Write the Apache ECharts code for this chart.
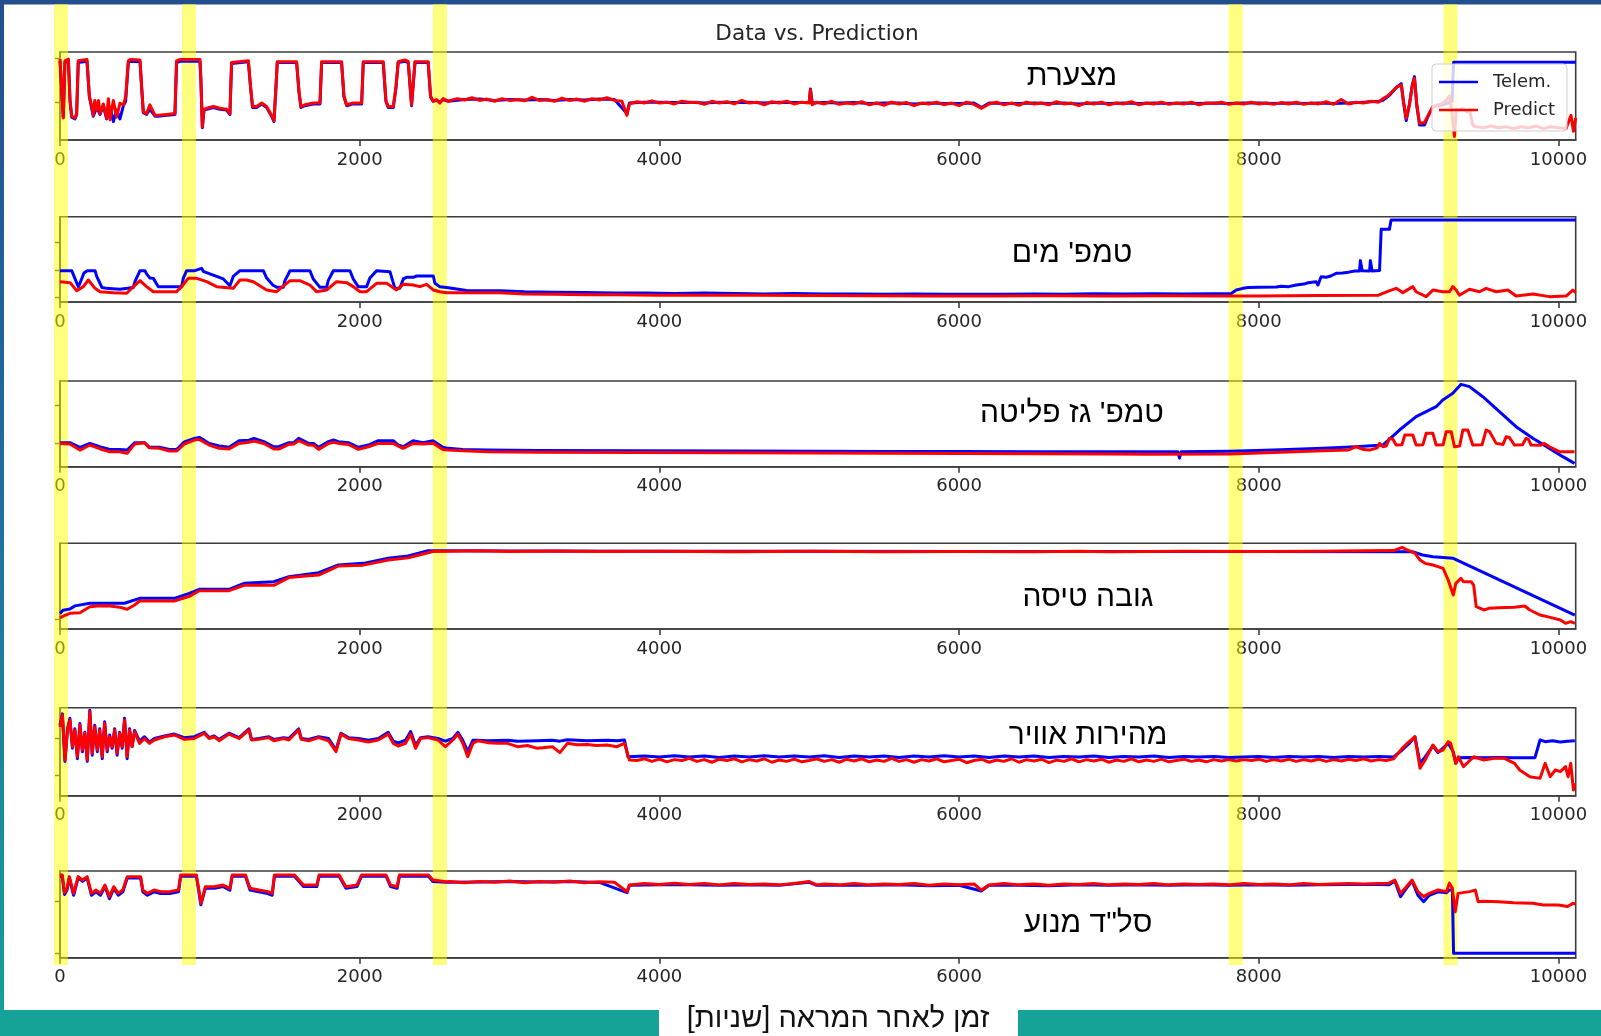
<!DOCTYPE html>
<html>
<head>
<meta charset="utf-8">
<script src="https://cdn.jsdelivr.net/npm/echarts@6/dist/echarts.min.js"></script>
<style>
html,body{margin:0;padding:0;background:#fff;}
#chart{width:1601px;height:1036px;}
</style>
</head>
<body>
<div id="chart"></div>
<script>
// ---------- DATA (time [s], value in % of panel height) ----------
const panelTitles = ["מצערת", "טמפ' מים", "טמפ' גז פליטה", "גובה טיסה", "מהירות אוויר", 'סל"ד מנוע'];
const xTicks = [0, 2000, 4000, 6000, 8000, 10000];
const seriesNames = ["Telem.", "Predict"];
const bands = [[-40, 53], [814, 907], [2488, 2582], [7799, 7892], [9233, 9326]];

const telem1 = [[0,90],[11,90],[22,26],[33,88],[56,90],[67,44],[78,26],[100,24],[111,29],[122,88],[133,89.5],[180,89.5],[196,49],[222,27],[245,37],[267,29],[289,39],[311,24],[334,37],[356,21],[378,34],[400,24],[423,39],[438,44],[456,88],[470,89.5],[534,89],[545,59],[556,31],[578,29],[600,35],[612,37],[634,27],[656,27],[712,28],[767,29],[778,88],[801,89.5],[934,89.5],[940,69],[950,14],[961,34],[979,35],[1023,37],[1068,35],[1112,34],[1134,29],[1145,87],[1156,89],[1257,89],[1272,59],[1285,37],[1312,37],[1346,41],[1379,37],[1412,27],[1428,21],[1441,59],[1450,88],[1579,88],[1595,54],[1608,37],[1635,39],[1690,41],[1735,41],[1746,88],[1879,88],[1895,49],[1913,39],[1957,41],[2013,41],[2024,88],[2157,88],[2175,44],[2190,37],[2224,37],[2242,59],[2257,88],[2302,89.5],[2324,88],[2346,39],[2357,37],[2369,88],[2457,88],[2473,49],[2490,44],[2513,45],[2535,43],[2557,46],[2591,44],
[2600,45],[2700,46],[2800,46.5],[2900,45],[3000,46],[3100,45.5],[3200,46],[3300,45],[3400,46],[3500,45.5],[3600,46.5],[3700,46],[3783,30],[3800,42],[3900,43],[4000,43],[4100,42.5],[4200,43],[4300,42],[4400,43],[4500,42.5],[4600,43],[4700,42],[4800,43],[4900,42.5],[5000,43],[5008,58],[5020,42],[5100,42.5],[5200,42],[5300,42.5],[5400,41.5],[5500,42],[5600,42],[5700,41],[5800,42],[5900,41.5],[6000,41.5],[6100,42],[6150,37],[6200,42],[6300,41.5],[6400,41.5],[6500,42],[6600,41.5],[6700,42],[6800,41],[6900,42],[7000,41.5],[7100,42],[7200,41.5],[7300,42],[7400,41.5],[7500,42],[7600,41.5],[7700,42],[7800,41.5],[7900,42],[8000,42],[8100,41.5],[8200,42],[8300,41.5],[8400,42],[8500,41.5],[8600,42],[8700,43],[8800,44],
[8828,45],[8860,49],[8884,53],[8920,60],[8951,64],[8965,44],[8984,22],[9005,40],[9025,63],[9039,72],[9055,38],[9073,17],[9106,17],[9130,27],[9162,38],[9200,39],[9229,40],[9260,42],[9290,44],[9300,88.3],[10115,88.3]];

const pred1 = [[0,92],[11,92],[22,25],[33,90],[56,92],[67,45],[78,27],[100,25],[111,30],[122,90],[133,91.5],[180,91.5],[196,50],[210,40],[222,28],[232,45],[245,34],[257,45],[267,30],[289,41],[311,25],[323,47],[334,23],[356,45],[378,26],[400,41.7],[423,40],[438,49],[456,90],[470,91.5],[534,91],[545,60],[556,32],[578,30],[600,40],[612,38],[634,28],[656,28],[712,29],[767,30],[778,90],[801,91.5],[934,91.5],[940,70],[950,15],[961,35],[979,36],[1023,38],[1068,36],[1112,35],[1134,30],[1145,88],[1156,90],[1257,90],[1272,60],[1285,38],[1312,38],[1346,42],[1379,38],[1412,28],[1428,22],[1441,60],[1450,89],[1579,89],[1595,55],[1608,38],[1635,40],[1690,42],[1735,42],[1746,89],[1879,89],[1895,50],[1913,40],[1957,42],[2013,42],[2024,89],[2157,89],[2175,45],[2190,38],[2224,38],[2242,60],[2257,89],[2302,91],[2324,89],[2346,40],[2357,38],[2369,89],[2457,89],[2473,50],[2490,44],[2513,46],[2535,42],[2557,47],[2591,44],
[2600,44],[2650,47],[2700,45.5],[2750,48],[2800,45],[2850,46.5],[2900,44],[2950,47],[3000,45],[3050,46],[3100,44.5],[3150,48.5],[3200,45],[3250,46],[3300,44],[3350,47.5],[3400,45],[3450,46.5],[3500,44],[3550,47],[3600,45.5],[3650,48],[3700,45],[3750,44],[3783,28],[3800,41],[3850,43.5],[3900,42],[3950,44.5],[4000,42],[4050,43],[4100,41],[4150,44],[4200,42.5],[4250,43],[4300,40.5],[4350,44],[4400,42],[4450,43.5],[4500,41],[4550,45],[4600,42],[4650,43],[4700,40],[4750,43.5],[4800,42],[4850,44],[4900,41],[4950,43],[5000,42],[5008,57],[5020,40],[5050,43],[5100,41],[5150,44],[5200,40.5],[5250,42],[5300,41],[5350,43.5],[5400,40],[5450,42],[5500,39.5],[5550,43],[5600,41],[5650,42.5],[5700,39],[5750,42],[5800,41],[5850,43],[5900,40],[5950,42],[6000,39],[6050,43],[6100,40.5],[6150,36],[6200,41],[6250,43],[6300,40],[6350,42],[6400,39.5],[6450,43],[6500,41],[6550,42],[6600,40],[6650,43.5],[6700,41],[6750,42],[6800,39],[6850,42.5],[6900,41],[6950,43],[7000,40],[7050,42],[7100,41],[7150,43.5],[7200,40],[7250,42],[7300,41],[7350,43],[7400,40.5],[7450,42],[7500,41],[7550,43],[7600,40],[7650,42],[7700,41.5],[7750,43],[7800,40.5],[7850,42],[7900,41],[7950,43],[8000,41],[8050,42],[8100,40.5],[8150,42.5],[8200,41],[8250,43],[8300,40.5],[8350,42],[8400,41],[8450,43.5],[8500,40.5],[8550,46],[8600,41],[8650,43],[8700,42],[8750,44],[8800,43],
[8828,47],[8860,50],[8884,54],[8920,60],[8951,62.5],[8965,45],[8984,24.6],[9005,40],[9025,62],[9039,70],[9055,40],[9073,19],[9106,20],[9130,28],[9162,38],[9200,40],[9229,42],[9250,45],[9273,50],[9290,30],[9306,4],[9318,35],[9335,34],[9360,36],[9390,32],[9406,34],[9428,17],[9451,15],[9500,14],[9550,16],[9600,14],[9650,15],[9700,13],[9750,15],[9800,14],[9850,16],[9900,13],[9950,15],[10000,14],[10051,13],[10070,22],[10084,28],[10100,10],[10115,25]];

const telem2 = [[0,36.7],[56,36.7],[78,36.7],[122,18],[133,22],[160,34],[182,36.7],[234,36.7],[245,30],[280,17],[311,16],[350,15.5],[400,15],[450,16],[489,17],[500,24],[534,36.7],[567,36.7],[578,33],[600,28],[623,27.7],[656,18],[700,18],[750,18],[812,18],[823,28],[845,36.7],[900,36.7],[945,39.5],[956,36],[1000,33],[1045,30],[1090,27],[1134,19],[1156,30],[1201,36.7],[1357,36.7],[1379,28],[1420,20],[1446,17.2],[1490,17.2],[1501,25],[1535,36.7],[1668,36.7],[1690,27],[1735,17.2],[1779,17.2],[1790,25],[1824,36.7],[1935,36.7],[1957,27],[1990,18],[2046,18],[2068,28],[2113,36.7],[2202,35.6],[2235,16],[2268,16],[2291,27],[2313,28.9],[2357,28.9],[2380,30.5],[2491,30.5],[2502,22],[2535,18],[2580,17],[2591,15],[2713,13.5],[2936,13.3],
[3100,12],[3300,11.5],[3500,11],[3700,10.5],[3900,10.5],[4100,10],[4300,10.5],[4500,10],[4700,9.5],[4900,10],[5100,9.5],[5300,9.5],[5500,9.2],[5700,9.5],[5900,9],[6100,9.2],[6300,9],[6500,9.5],[6700,9.2],[6900,9.8],[7100,9.4],[7300,9.6],[7500,9.4],[7700,9.6],
[7816,10],[7850,14],[7894,16],[7930,17],[8000,17.2],[8116,17.5],[8150,18.5],[8200,18],[8250,20],[8300,21],[8330,22.5],[8383,23.8],[8395,19.9],[8416,29.7],[8450,29],[8480,30.5],[8517,33.6],[8560,34],[8600,35],[8640,36.3],[8672,36.3],[8678,48.5],[8690,36.5],[8739,36.3],[8745,48.5],[8756,36.3],[8806,37],[8817,85.2],[8872,85.2],[8883,96.1],[10115,96.1]];

const pred2 = [[0,23.8],[67,22.7],[111,13.3],[156,18],[189,25.8],[234,16],[267,12.1],[356,10.9],[445,10.2],[467,14.1],[534,25],[578,18],[623,12.1],[778,12.1],[812,18],[856,27.7],[912,27.7],[979,23.8],[1045,18],[1156,16],[1201,25.8],[1245,25.8],[1290,23.8],[1379,14.1],[1446,12.1],[1535,25],[1601,25],[1668,19.9],[1712,12.1],[1779,14.1],[1846,23.8],[1913,22.7],[1957,18],[2002,12.1],[2046,12.1],[2113,21.9],[2180,21.9],[2246,14.1],[2291,20.7],[2357,19.9],[2402,18],[2446,20.7],[2491,14.1],[2535,12.1],[2580,10.9],[2936,10.9],[3100,9.5],[3300,9],[3500,8.5],[3700,8.5],[4000,8],[4300,8],[4600,7.8],[5000,7.5],[5400,7.3],[5800,7],[6200,7],[6600,7.2],[7000,7],[7400,7.2],[7700,7],[8000,7],[8400,7.5],[8800,8],[8828,10],[8870,13],[8917,16],[8961,11],[9028,18],[9050,12],[9117,6.3],[9162,14],[9228,12],[9273,12],[9295,18],[9317,14],[9339,8],[9406,15],[9473,12],[9517,16],[9584,12],[9662,14],[9717,7],[9829,9.4],[9940,6.3],[10051,7],[10096,14],[10115,11]];

const telem3 = [[0,28],[50,28],[66,28],[133,22.6],[199,27.2],[265,23.3],[332,20.2],[398,20.2],[448,19.4],[498,28],[564,28],[597,22.6],[664,22.6],[730,20.2],[780,20.2],[830,29],[896,33],[929,34.2],[962,31],[995,27.2],[1062,24.1],[1128,22.6],[1195,30.3],[1261,31],[1294,33.1],[1361,29.2],[1427,23.3],[1460,23.3],[1527,28],[1560,28],[1593,33.1],[1659,27.2],[1692,27.2],[1726,22.6],[1792,29.2],[1825,31.1],[1858,29.2],[1925,28],[1991,22.6],[2058,25.3],[2124,30.3],[2224,30.3],[2257,25.3],[2290,23.3],[2356,30.3],[2423,28],[2489,30.3],[2555,22.6],[2589,21.4],[2688,20.2],[2854,19.4],[3186,19],[3850,18.7],[4500,18.2],[5045,18],[5500,17.8],[6000,17.6],[6500,17.5],[7000,17.4],[7460,17.4],[7471,10],[7482,17.4],[7805,18],[8100,19.5],[8427,21.4],[8650,23.4],[8828,25.3],[8939,42.8],[9050,58.4],[9117,64.2],[9184,70],[9228,77.8],[9295,85.6],[9350,96.1],[9406,93.4],[9495,81.7],[9606,64.2],[9717,46.7],[9829,33.1],[9940,21.4],[10029,11.7],[10107,3.9]];

const pred3 = [[0,27],[66,26.4],[133,19.4],[199,25.3],[265,21],[332,17.5],[398,17.5],[448,15.6],[498,26.4],[564,28],[597,22],[664,21.4],[730,18.3],[780,18.3],[830,26.5],[896,31.1],[929,31.9],[962,28.5],[995,25.3],[1062,21.4],[1128,20.6],[1195,27.2],[1261,28.5],[1294,30],[1361,27],[1427,20.6],[1460,20.6],[1527,26],[1560,26.4],[1593,30.3],[1659,25.3],[1692,25],[1726,20.2],[1792,27],[1825,28.5],[1858,27.2],[1925,26],[1991,20.2],[2058,23.3],[2124,27.2],[2224,27.2],[2257,24],[2290,21.4],[2356,27.2],[2423,26.5],[2489,27.5],[2555,20],[2589,19.4],[2688,18.5],[2854,17.5],[3186,17],[3850,16.7],[4500,16.2],[5045,16],[5500,15.6],[6000,15.3],[6500,15],[7000,14.8],[7271,14.6],[7805,14.8],[8100,16.5],[8427,18.7],[8600,19.5],[8650,23.3],[8700,20],[8739,19.4],[8790,22],[8806,27.2],[8828,23.3],[8850,24],[8872,33.1],[8895,32],[8917,25.3],[8955,25.5],[8975,37],[9028,37],[9050,25.3],[9095,25.5],[9117,38.9],[9162,38.9],[9184,25.3],[9230,25.5],[9251,40.9],[9284,40.9],[9306,23.3],[9340,24],[9362,42.8],[9395,42.8],[9428,25.3],[9490,25.5],[9517,42.8],[9540,41],[9584,27.2],[9630,26],[9651,35],[9673,34],[9706,25.3],[9760,25.5],[9784,33.1],[9800,32],[9817,25.3],[9880,25],[9906,27.2],[9940,23.3],[10006,17.5],[10107,17.5]];

const telem4 = [[0,18],[20,22],[66,23.3],[100,27],[199,30],[431,30],[531,35.8],[763,35.8],[863,41.6],[929,46.3],[1128,46.3],[1228,53.3],[1427,55.2],[1527,61],[1726,65.7],[1858,74.7],[2024,76.6],[2190,82.5],[2323,85.2],[2456,91.4],[2522,91.4],[3000,91],[4000,90.8],[5000,90.6],[6000,90.5],[7000,90.4],[8000,90.3],[9025,90.2],[9093,86.3],[9162,84.4],[9298,82.5],[10109,16.3]];

const pred4 = [[0,13],[33,16],[66,18.3],[133,19],[199,26],[265,27],[332,26.8],[398,25.5],[448,23],[498,28],[531,32.7],[763,32.7],[863,38],[929,44.7],[1128,44.7],[1228,51],[1427,51],[1527,60],[1660,62],[1726,63],[1792,68],[1858,73.5],[2024,74.5],[2124,78],[2190,80.5],[2323,83],[2390,86],[2489,90.5],[2600,90.8],[2800,91.3],[3000,90.5],[3300,91],[3600,90.3],[4000,90.8],[4500,90.2],[5000,90.6],[5500,90],[6000,90.5],[6500,90],[6800,90.6],[7000,90.2],[7500,90.6],[8000,90.3],[8400,90.8],[8700,91.2],[8900,91.5],[8957,95.3],[8991,92.2],[9042,88.3],[9076,80.5],[9110,76.6],[9162,74.7],[9196,72.7],[9230,70.8],[9264,57.2],[9298,39.7],[9315,53.3],[9349,59.1],[9366,55.2],[9417,55.2],[9434,51.3],[9451,26.1],[9502,22.2],[9536,24.1],[9600,24.9],[9707,25.3],[9775,26.8],[9809,22.2],[9877,16.3],[9945,13.6],[10013,10.5],[10047,6.6],[10082,8.6],[10109,6.6]];

const telem5 = [[0,80],[16,93],[33,39],[50,76],[66,88],[83,54],[99,76],[116,42],[133,82],[149,50],[166,72],[182,39],[199,97],[215,46],[232,80],[249,50],[265,76],[282,42],[298,84],[315,50],[332,69],[348,54],[365,76],[381,46],[398,72],[415,54],[431,88],[448,42],[464,76],[481,56],[498,74],[531,62],[564,67],[597,61],[630,65],[697,68],[763,70],[830,66],[896,67],[962,72],[995,66],[1029,68],[1062,64],[1128,71],[1195,66],[1261,76],[1278,64],[1327,65],[1394,67],[1427,64],[1493,66],[1527,65],[1593,76],[1610,65],[1659,64],[1726,67],[1792,65],[1842,52],[1875,71],[1925,66],[1991,65],[2058,63],[2124,65],[2190,72],[2224,62],[2257,60],[2306,63],[2340,73],[2373,57],[2406,66],[2456,67],[2522,65],[2572,62],[2622,65],[2655,72],[2688,63],[2721,50],[2755,63],[2788,63],[2854,62.5],[2987,63],[3053,62],[3186,62.5],[3286,63],[3336,62],[3386,63.5],[3518,62.5],[3651,63],[3717,62.5],[3767,63.3],[3790,44.3],
[3900,45],[4000,44],[4100,45.5],[4200,44],[4300,45],[4400,43.5],[4500,45],[4600,44],[4700,45.5],[4800,44],[4900,45],[5000,44],[5100,45.5],[5200,43.5],[5300,45],[5400,44],[5500,45],[5600,43.5],[5700,45],[5800,44],[5900,45.5],[6000,44],[6100,45],[6200,43.5],[6300,45],[6400,44],[6500,45],[6600,43.5],[6700,44.5],[6800,44],[6900,45],[7000,43.5],[7100,44.5],[7200,44],[7300,45],[7400,43.5],[7500,44.5],[7600,44],[7700,44.5],[7800,43.5],[7900,44],[8000,44.5],[8100,43.5],[8200,44.5],[8300,44],[8400,44.5],[8500,43.5],[8600,44.5],[8700,44],[8800,44.5],[8900,44],
[8957,51.9],[9008,60],[9042,67],[9076,36.8],[9110,44],[9162,56.4],[9196,49],[9264,59.5],[9298,50],[9315,36.8],[9332,43.2],[9400,43.5],[9500,43],[9600,43.5],[9700,43],[9843,43.2],[9877,63.3],[9911,61.4],[9960,62.5],[10013,61],[10060,62],[10109,62.5]];

const pred5 = [[0,78],[16,91.7],[33,40.6],[50,74.7],[66,86],[83,55.7],[99,74.7],[116,44.4],[133,80.3],[149,51.9],[166,70.9],[182,40.6],[199,95.5],[215,48.1],[232,78.4],[249,51.9],[265,74.7],[282,44.4],[298,82.2],[315,51.9],[332,67.1],[348,55.7],[365,74.7],[381,48.1],[398,70.9],[415,55.7],[431,86],[448,44.4],[464,74.7],[481,55.7],[498,72.8],[531,59.5],[564,65],[597,59.5],[630,63.3],[697,67],[763,69],[830,64],[896,65],[962,70.9],[995,65],[1029,67],[1062,62.5],[1128,70],[1195,65],[1261,74.7],[1278,63.3],[1327,64],[1394,66],[1427,62.5],[1493,65],[1527,63.3],[1593,74.7],[1610,64],[1659,62.5],[1726,66],[1792,62.5],[1842,50],[1875,70],[1925,65],[1991,63.3],[2058,61],[2124,63.3],[2190,70],[2224,59.5],[2257,56.5],[2306,59.5],[2340,70],[2373,53.8],[2406,65],[2456,66],[2522,63.3],[2572,55.7],[2622,63.3],[2655,70],[2688,59.5],[2721,44.4],[2755,59.5],[2788,62.5],[2854,60.3],[2920,59.5],[2987,59.5],[3053,55.7],[3120,57],[3186,53.8],[3286,55.7],[3336,48.9],[3386,59.5],[3450,58],[3518,58.3],[3580,57],[3651,57.6],[3717,55.7],[3767,59.5],[3800,40.6],
[3850,40],[3900,42],[3950,39],[4000,41.5],[4050,38.5],[4100,41],[4150,40],[4200,42.5],[4250,39],[4300,41],[4350,38],[4400,41.5],[4450,40],[4500,42],[4550,38.5],[4600,41],[4650,39.5],[4700,42],[4750,38],[4800,40.5],[4850,39],[4900,41.5],[4950,38.5],[5000,40],[5050,42],[5100,39],[5150,41],[5200,38],[5250,41.5],[5300,39.5],[5350,42],[5400,38.5],[5450,40.5],[5500,39],[5550,42.5],[5600,39],[5650,41],[5700,38],[5750,41],[5800,39.5],[5850,42],[5900,38.5],[5950,40],[6000,41.5],[6050,37.5],[6100,40],[6150,41.5],[6200,38],[6250,40.5],[6300,39],[6350,42],[6400,38],[6450,41],[6500,39.5],[6550,41.5],[6600,37.5],[6650,40.5],[6700,39],[6750,42],[6800,38.5],[6850,41],[6900,39.5],[6950,41.5],[7000,38],[7050,40.5],[7100,39],[7150,42],[7200,38.5],[7250,40.5],[7300,39],[7350,41.5],[7400,38.5],[7450,40],[7500,41.5],[7550,39],[7600,40.5],[7650,38.5],[7700,41],[7750,39.5],[7800,41],[7850,39.5],[7900,41],[7950,40],[8000,41.5],[8050,39],[8100,41],[8150,39.5],[8200,41.5],[8250,39],[8300,41],[8350,39.5],[8400,41.5],[8450,39],[8500,41],[8550,39.5],[8600,41.5],[8650,40],[8700,42],[8750,39.5],[8800,41],[8850,40],[8900,42],
[8957,53.8],[8991,59.5],[9042,67],[9076,31.1],[9110,40.6],[9162,57.6],[9196,50],[9230,51.9],[9264,61.4],[9281,59.5],[9315,36.8],[9332,44.3],[9366,33],[9434,44.3],[9502,40.6],[9570,42.5],[9639,42.5],[9707,36.8],[9741,29.2],[9809,21.6],[9877,19.7],[9911,36.8],[9945,21.6],[9979,29.2],[10013,27.3],[10047,33],[10064,21.6],[10082,36.8],[10100,6.5],[10110,14]];

const telem6 = [[0,94],[15,94],[30,73],[47,78],[62,92],[91,72],[121,92],[151,88],[181,92],[210,72],[240,76],[270,72],[300,82],[330,68],[359,80],[389,72],[419,76],[449,92],[538,92],[553,76],[583,72],[627,76],[672,74],[732,74],[791,76],[805,94],[910,94],[925,78],[940,61],[970,80],[1029,80],[1089,82],[1134,78],[1149,94],[1238,94],[1268,78],[1327,76],[1387,74],[1416,72],[1431,94],[1565,94],[1625,82],[1714,82],[1729,94],[1863,94],[1908,80],[1982,82],[2012,94],[2176,94],[2206,82],[2250,80],[2265,94],[2459,94],[2489,88],[2578,87],
[2800,87.3],[3000,87.8],[3200,87.2],[3400,87.8],[3600,86.8],[3784,75],[3800,83.5],[4000,84],[4200,84],[4400,83.5],[4600,84],[4800,83.5],[5000,87],[5050,83.5],[5200,83.5],[5400,83.5],[5600,84],[5800,83],[6000,83.5],[6148,77],[6200,83.5],[6400,83.5],[6600,83],[6800,84],[7000,83.5],[7200,84],[7400,83.5],[7600,84],[7800,83.5],[8000,84],[8200,83.5],[8400,84],[8600,84.5],[8800,84.5],
[8870,84],[8908,88.5],[8946,70.4],[8985,80],[9023,88.5],[9062,72],[9100,64.6],[9138,72],[9196,76],[9253,75],[9272,78.1],[9292,78],[9300,5],[10115,5]];

const pred6 = [[0,95.4],[15,95.4],[30,75],[47,80],[62,93.5],[91,74.2],[121,93.5],[151,89.6],[181,93.5],[210,74.2],[240,78.1],[270,74.2],[300,83.8],[330,70.4],[359,81.9],[389,74.2],[419,78.1],[449,93.5],[538,93.5],[553,78.1],[583,74.2],[627,78.1],[672,76.2],[732,76.2],[791,78.1],[805,95.4],[910,95.4],[925,80],[940,62.7],[970,81.9],[1029,81.9],[1089,83.8],[1134,80],[1149,95.4],[1238,95.4],[1268,80],[1327,78.1],[1387,76.2],[1416,74.2],[1431,95.4],[1565,95.4],[1625,83.8],[1714,83.8],[1729,95.4],[1863,95.4],[1908,81.9],[1982,83.8],[2012,95.4],[2176,95.4],[2206,83.8],[2250,81.9],[2265,95.4],[2459,95.4],[2489,89.6],[2578,87.7],
[2600,88],[2700,86.5],[2800,88],[2900,87],[3000,88.5],[3100,86.5],[3200,88],[3300,87],[3400,88.5],[3500,86.5],[3600,87.5],[3700,87],[3784,76],[3800,84],[3900,85.5],[4000,84.5],[4100,86],[4200,84.5],[4300,85.5],[4400,84],[4500,85.5],[4600,84.5],[4700,85],[4800,84],[4900,85.5],[4997,88],[5050,84],[5100,85],[5200,84],[5300,85.5],[5400,84],[5500,85],[5600,84.5],[5700,85.5],[5800,83.5],[5900,85],[6000,84],[6100,85],[6148,78],[6200,84],[6300,85.5],[6400,84],[6500,85],[6600,83.5],[6700,85],[6800,84.5],[6900,85.5],[7000,84],[7100,85],[7200,84.5],[7300,85.5],[7400,84],[7500,85],[7600,84.5],[7700,85],[7800,84],[7900,85.5],[8000,84.5],[8100,85],[8200,84],[8300,85.5],[8400,84.5],[8500,85],[8600,85.5],[8700,85],[8800,85.5],
[8870,86],[8908,89.6],[8946,74.2],[8985,81.9],[9023,89.6],[9062,76.2],[9100,70.4],[9138,74.2],[9196,78.1],[9253,76.2],[9272,86],[9292,80],[9311,53],[9330,74.2],[9407,76.2],[9445,78],[9464,64.6],[9500,65],[9600,64.6],[9700,63.5],[9828,62.7],[9900,60.8],[10000,60.8],[10060,59],[10097,62.7],[10115,62]];

const yTicks = [[42.8, 92.8], [5.5, 36.7, 70], [27.3, 71.2], [11.3], [22.7, 64.8], [5.1, 64.6]];

// ---------- LAYOUT ----------
const telemSeries = [telem1, telem2, telem3, telem4, telem5, telem6];
const predSeries = [pred1, pred2, pred3, pred4, pred5, pred6];
const gridTops = [52, 216.7, 381, 543.3, 707.7, 871];
const gridHeights = [88, 85.3, 85.7, 85.7, 88, 86.7];
const titlePos = [[1072, 77], [1072, 254], [1072, 414], [1088, 598], [1088, 736], [1088, 924]];
const LEFT = 60, WIDTH = 1515.7, XMAX = 10115;
const axisColor = '#3d3d3d';
const tickFont = '"DejaVu Sans", sans-serif';
const hebFont = '"Liberation Sans", "DejaVu Sans", sans-serif';

const grids = [], xAxes = [], yAxes = [], series = [];
for (let i = 0; i < 6; i++) {
  grids.push({left: LEFT, top: gridTops[i], width: WIDTH, height: gridHeights[i], show: true,
    borderColor: axisColor, borderWidth: 1.6, backgroundColor: 'transparent', containLabel: false});
  xAxes.push({type: 'value', gridIndex: i, min: 0, max: XMAX,
    axisLine: {show: true, onZero: false, lineStyle: {color: axisColor, width: 1.6}},
    axisTick: {show: true, customValues: xTicks, length: 6, lineStyle: {color: axisColor, width: 1.6}},
    axisLabel: {show: true, customValues: xTicks, margin: 11, fontSize: 18, fontFamily: tickFont, color: '#262626',
      formatter: v => String(v)},
    splitLine: {show: false}});
  yAxes.push({type: 'value', gridIndex: i, min: 0, max: 100,
    axisLine: {show: true, onZero: false, lineStyle: {color: axisColor, width: 1.6}},
    axisTick: {show: true, customValues: yTicks[i], length: 5, lineStyle: {color: axisColor, width: 1.4}},
    axisLabel: {show: false}, splitLine: {show: false}});
  series.push({type: 'line', name: seriesNames[0], xAxisIndex: i, yAxisIndex: i, data: telemSeries[i],
    symbol: 'none', showSymbol: false, z: 2, lineStyle: {color: '#0000ff', width: 3, join: 'round'},
    itemStyle: {color: '#0000ff'}, animation: false});
  series.push({type: 'line', name: seriesNames[1], xAxisIndex: i, yAxisIndex: i, data: predSeries[i],
    symbol: 'none', showSymbol: false, z: 2, lineStyle: {color: '#ff0000', width: 3, join: 'round'},
    itemStyle: {color: '#ff0000'}, animation: false});
}
// overlay grid for the highlighted time bands (spans the whole figure height)
grids.push({left: 54, top: 4, width: 1575.7 - 54, height: 961, show: false});
xAxes.push({type: 'value', gridIndex: 6, min: -40, max: XMAX, show: false});
yAxes.push({type: 'value', gridIndex: 6, min: 0, max: 1, show: false});
series.push({type: 'line', xAxisIndex: 6, yAxisIndex: 6, data: [], silent: true, z: 10, clip: false,
  symbol: 'none', animation: false,
  markArea: {silent: true, animation: false, itemStyle: {color: 'rgba(255,255,0,0.5)'},
    data: bands.map(b => [{xAxis: b[0]}, {xAxis: b[1]}])}});

const graphics = [
  {type: 'rect', z: 0, shape: {x: 0, y: 0, width: 1601, height: 4.5}, style: {fill: '#234e8e'}},
  {type: 'rect', z: 0, shape: {x: 0, y: 0, width: 4, height: 1036},
    style: {fill: new echarts.graphic.LinearGradient(0, 0, 0, 1, [{offset: 0, color: '#234e8e'}, {offset: 0.5, color: '#1f6fa0'}, {offset: 1, color: '#14a396'}])}},
  {type: 'rect', z: 0, shape: {x: 0, y: 1010, width: 1601, height: 26}, style: {fill: '#14a396'}},
  {type: 'rect', z: 1, shape: {x: 659, y: 1008, width: 359, height: 28}, style: {fill: '#ffffff'}},
  {type: 'text', z: 3, x: 817, y: 34, style: {text: 'Data vs. Prediction', font: '21.6px ' + tickFont, fill: '#262626',
    textAlign: 'center', textVerticalAlign: 'middle', align: 'center', verticalAlign: 'middle'}},
  {type: 'text', z: 3, x: 838, y: 1019, style: {text: 'זמן לאחר המראה [שניות]\u200F', font: '29px ' + hebFont, fill: '#111',
    textAlign: 'center', textVerticalAlign: 'middle', align: 'center', verticalAlign: 'middle'}}
];
panelTitles.forEach((t, i) => {
  graphics.push({type: 'text', z: 3, x: titlePos[i][0], y: titlePos[i][1],
    style: {text: t, font: '30px ' + hebFont, fill: '#000', textAlign: 'center', textVerticalAlign: 'middle',
      align: 'center', verticalAlign: 'middle'}});
});

const chart = echarts.init(document.getElementById('chart'), null, {renderer: 'canvas'});
chart.setOption({
  animation: false,
  backgroundColor: '#ffffff',
  grid: grids, xAxis: xAxes, yAxis: yAxes, series: series,
  legend: {show: true, data: seriesNames.map(n => ({name: n, icon: 'rect'})), orient: 'vertical', left: 1432, top: 64, z: 5,
    padding: [9, 12, 12, 7], itemWidth: 39, itemHeight: 2.6, itemGap: 10,
    backgroundColor: 'rgba(255,255,255,0.8)', borderColor: '#cfcfcf', borderWidth: 1, borderRadius: 4,
    textStyle: {fontSize: 18, fontFamily: tickFont, color: '#262626', padding: [0, 0, 0, 10]}},
  graphic: graphics
});
</script>
</body>
</html>
